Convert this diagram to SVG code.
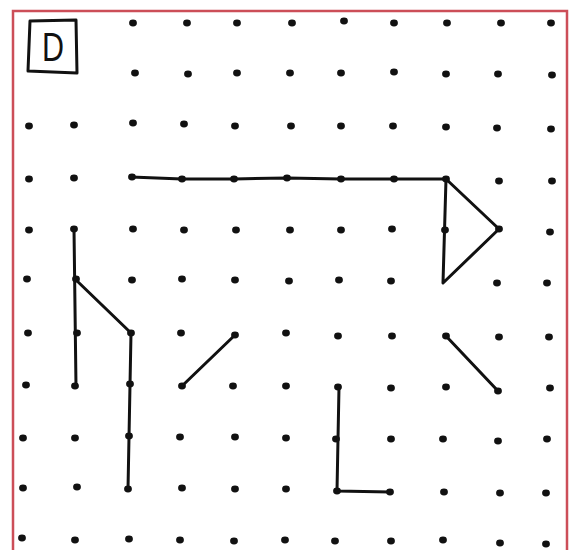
<svg xmlns="http://www.w3.org/2000/svg" width="577" height="550" viewBox="0 0 577 550">
<style>
.dot{fill:#111}
.ln{fill:none;stroke:#111;stroke-width:3;stroke-linecap:round;stroke-linejoin:round}
.frame{fill:none;stroke:#cc4e58;stroke-width:2.5}
.lbl{font-family:"Liberation Sans","DejaVu Sans",sans-serif;font-size:40px;fill:#111}
</style>
<defs>
<ellipse id="d" rx="3.9" ry="3.4" class="dot"/>
</defs>
<rect width="577" height="550" fill="#ffffff"/>
<path class="frame" d="M13,560 L13,11 L567,11 L567,560"/>
<g id="label-D">
<path class="ln" d="M30,21 L76,20 L77,73 L28,71 Z"/>
<text class="lbl" x="42" y="61" textLength="22" lengthAdjust="spacingAndGlyphs">D</text>
</g>
<g id="dots">
<use href="#d" x="133" y="23"/><use href="#d" x="187" y="23"/><use href="#d" x="237" y="23"/><use href="#d" x="292" y="23"/><use href="#d" x="344" y="21"/><use href="#d" x="394" y="23"/><use href="#d" x="447" y="23"/><use href="#d" x="501" y="23"/><use href="#d" x="551" y="23"/>
<use href="#d" x="135" y="73"/><use href="#d" x="188" y="74"/><use href="#d" x="237" y="73"/><use href="#d" x="290" y="73"/><use href="#d" x="341" y="73"/><use href="#d" x="394" y="72"/><use href="#d" x="446" y="74"/><use href="#d" x="498" y="74"/><use href="#d" x="552" y="75"/>
<use href="#d" x="29" y="126"/><use href="#d" x="74" y="125"/><use href="#d" x="133" y="123"/><use href="#d" x="184" y="124"/><use href="#d" x="235" y="126"/><use href="#d" x="291" y="126"/><use href="#d" x="341" y="126"/><use href="#d" x="393" y="126"/><use href="#d" x="446" y="127"/><use href="#d" x="497" y="128"/><use href="#d" x="551" y="129"/>
<use href="#d" x="29" y="179"/><use href="#d" x="74" y="178"/><use href="#d" x="132" y="177"/><use href="#d" x="182" y="179"/><use href="#d" x="234" y="179"/><use href="#d" x="287" y="178"/><use href="#d" x="341" y="179"/><use href="#d" x="394" y="179"/><use href="#d" x="446" y="179"/><use href="#d" x="499" y="181"/><use href="#d" x="552" y="181"/>
<use href="#d" x="29" y="230"/><use href="#d" x="74" y="229"/><use href="#d" x="133" y="229"/><use href="#d" x="184" y="230"/><use href="#d" x="236" y="230"/><use href="#d" x="290" y="230"/><use href="#d" x="341" y="230"/><use href="#d" x="392" y="229"/><use href="#d" x="445" y="230"/><use href="#d" x="499" y="229"/><use href="#d" x="550" y="232"/>
<use href="#d" x="27" y="279"/><use href="#d" x="76" y="279"/><use href="#d" x="132" y="280"/><use href="#d" x="182" y="279"/><use href="#d" x="235" y="280"/><use href="#d" x="289" y="281"/><use href="#d" x="339" y="280"/><use href="#d" x="391" y="281"/><use href="#d" x="497" y="283"/><use href="#d" x="547" y="283"/>
<use href="#d" x="28" y="333"/><use href="#d" x="77" y="333"/><use href="#d" x="131" y="333"/><use href="#d" x="181" y="333"/><use href="#d" x="235" y="335"/><use href="#d" x="286" y="333"/><use href="#d" x="338" y="336"/><use href="#d" x="392" y="336"/><use href="#d" x="446" y="336"/><use href="#d" x="499" y="337"/><use href="#d" x="549" y="337"/>
<use href="#d" x="26" y="385"/><use href="#d" x="75" y="386"/><use href="#d" x="130" y="384"/><use href="#d" x="182" y="386"/><use href="#d" x="233" y="386"/><use href="#d" x="286" y="386"/><use href="#d" x="338" y="387"/><use href="#d" x="391" y="388"/><use href="#d" x="446" y="387"/><use href="#d" x="498" y="391"/><use href="#d" x="550" y="388"/>
<use href="#d" x="23" y="438"/><use href="#d" x="75" y="438"/><use href="#d" x="129" y="436"/><use href="#d" x="180" y="437"/><use href="#d" x="235" y="437"/><use href="#d" x="286" y="438"/><use href="#d" x="336" y="439"/><use href="#d" x="391" y="439"/><use href="#d" x="443" y="439"/><use href="#d" x="498" y="441"/><use href="#d" x="547" y="439"/>
<use href="#d" x="23" y="488"/><use href="#d" x="77" y="487"/><use href="#d" x="128" y="489"/><use href="#d" x="182" y="488"/><use href="#d" x="235" y="489"/><use href="#d" x="286" y="489"/><use href="#d" x="337" y="491"/><use href="#d" x="390" y="492"/><use href="#d" x="444" y="492"/><use href="#d" x="500" y="493"/><use href="#d" x="546" y="493"/>
<use href="#d" x="22" y="538"/><use href="#d" x="75" y="540"/><use href="#d" x="129" y="539"/><use href="#d" x="180" y="540"/><use href="#d" x="234" y="541"/><use href="#d" x="285" y="540"/><use href="#d" x="335" y="541"/><use href="#d" x="391" y="541"/><use href="#d" x="443" y="540"/><use href="#d" x="500" y="543"/><use href="#d" x="546" y="544"/>
</g>
<g id="connectors">
<path class="ln" d="M131,177 L182,179 L234,179 L287,178 L341,179 L446,179"/>
<path class="ln" d="M446,179 L499,229 L443,283 Z"/>
<path class="ln" d="M74,229 L76,386"/>
<path class="ln" d="M75,279 L131,333 L128,489"/>
<path class="ln" d="M182,386 L235,335"/>
<path class="ln" d="M446,336 L498,391"/>
<path class="ln" d="M339,387 L337,491 L390,492"/>
</g>
</svg>
